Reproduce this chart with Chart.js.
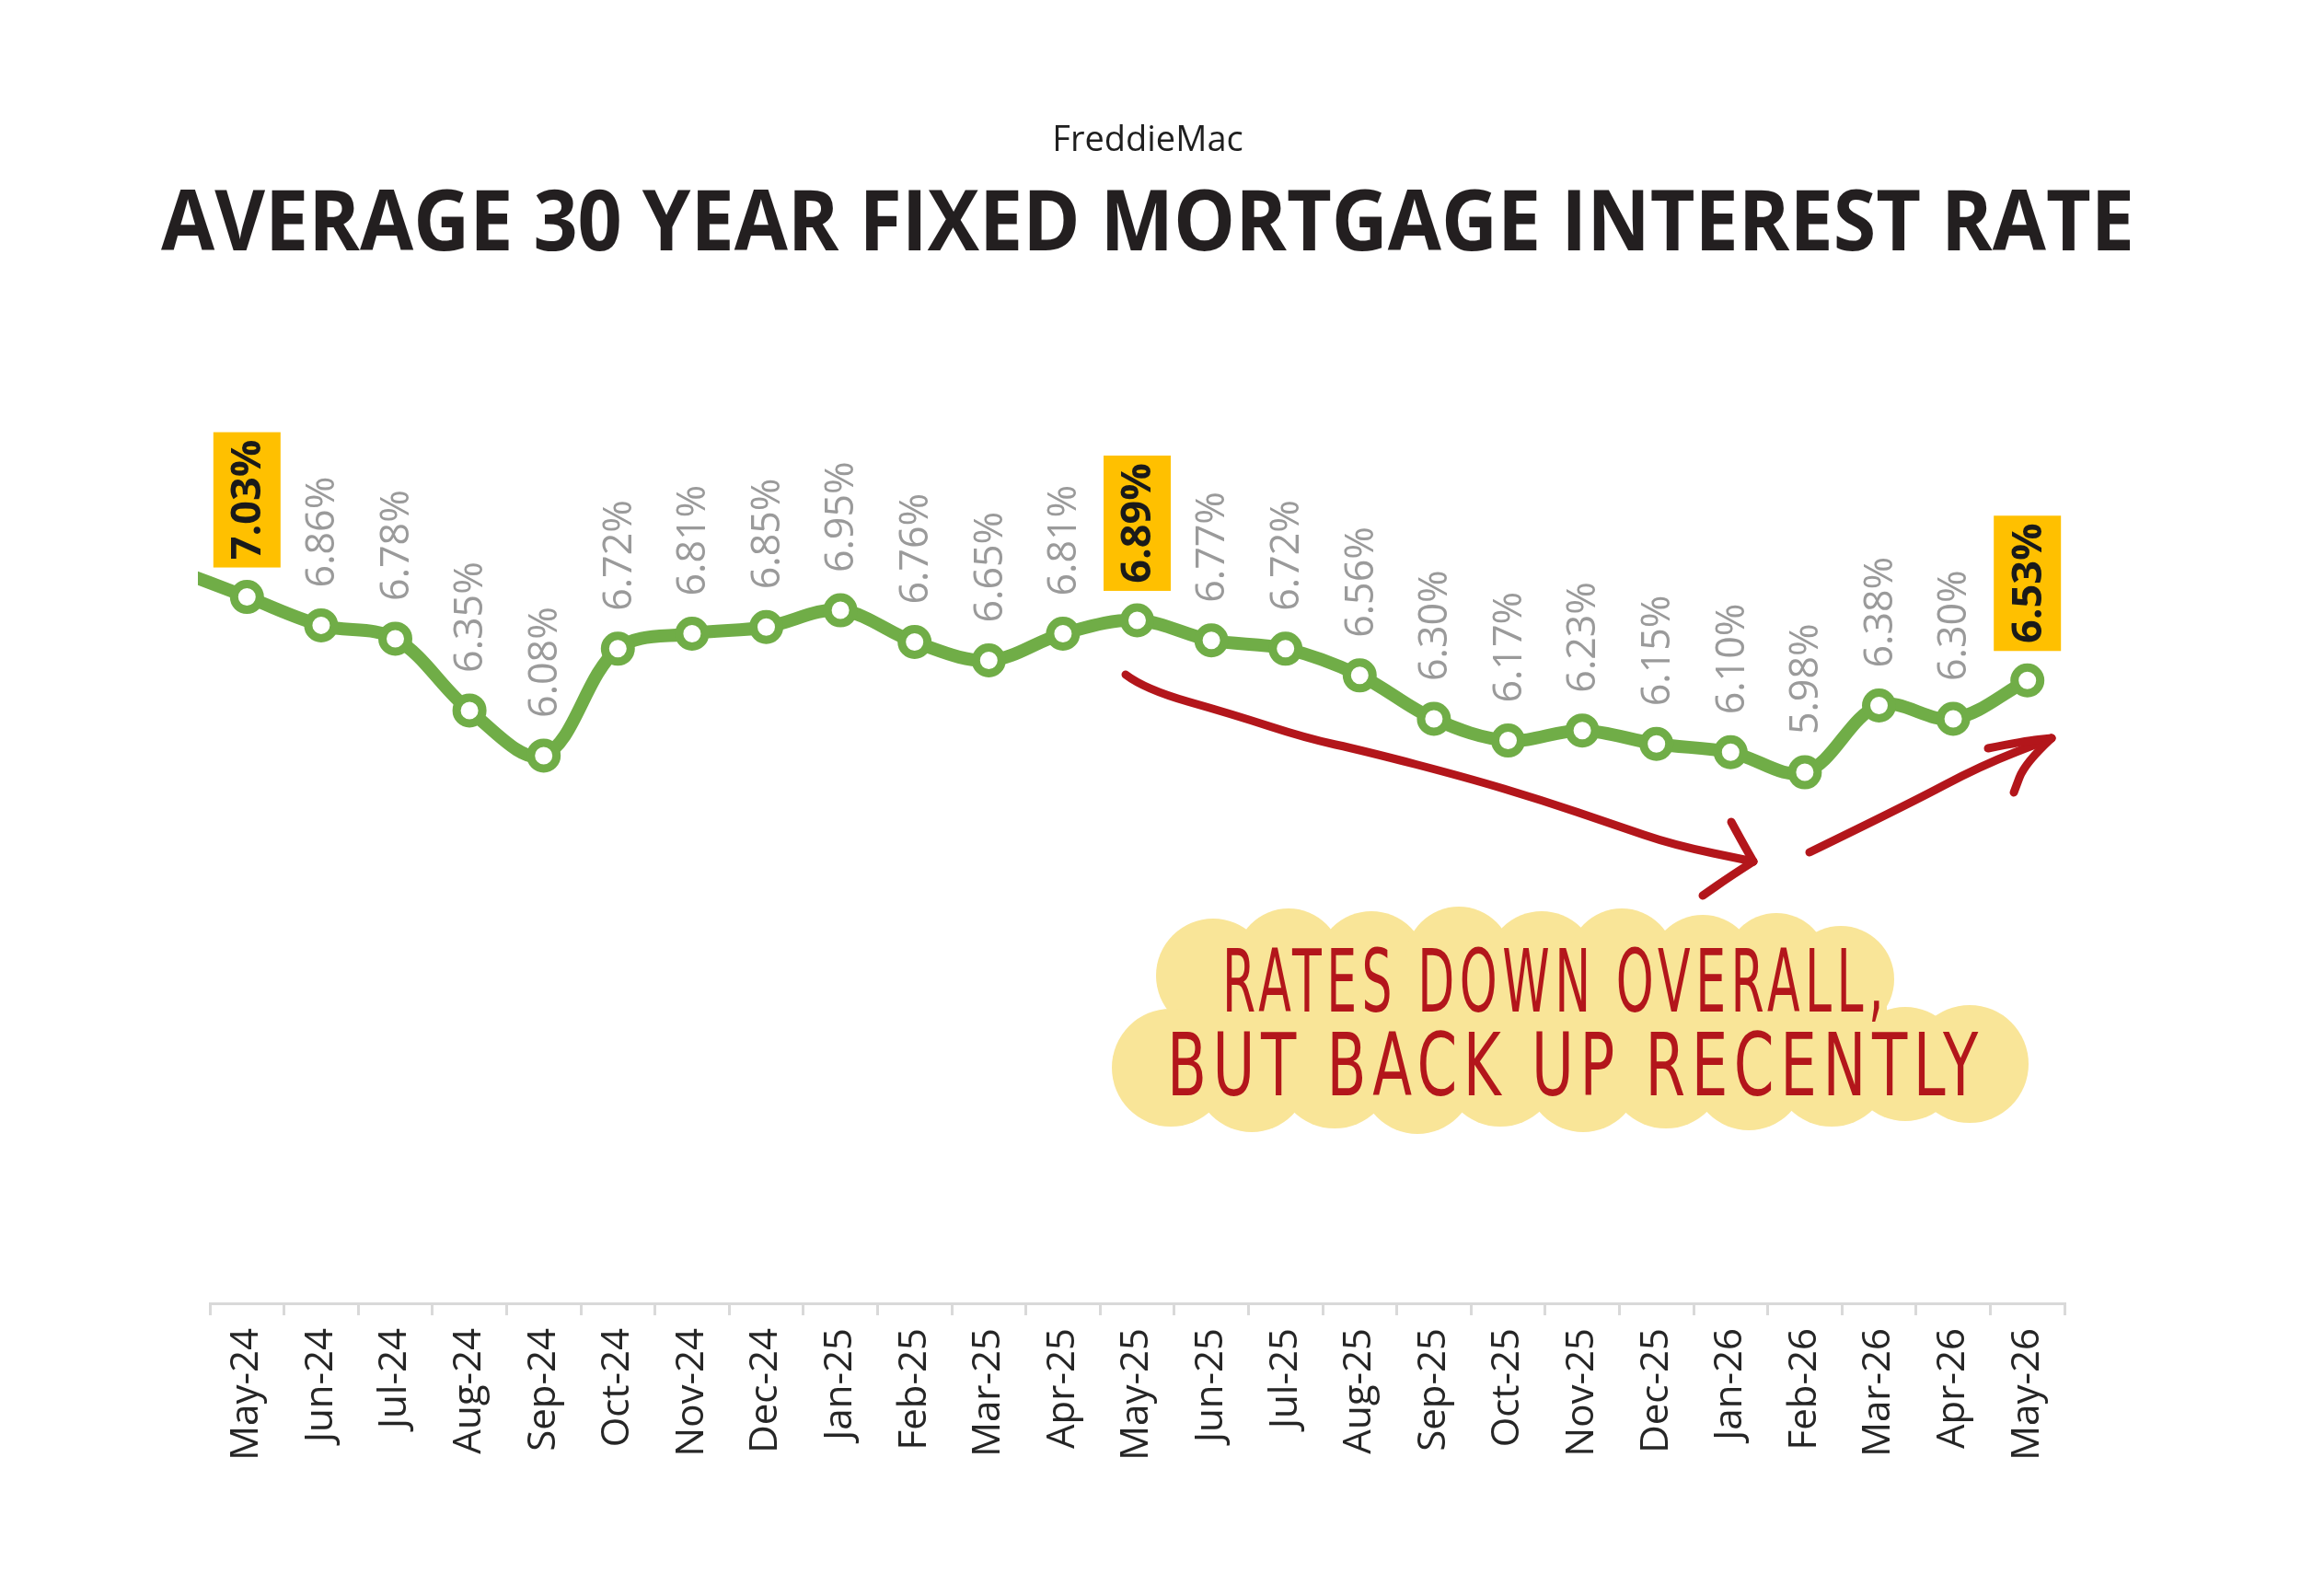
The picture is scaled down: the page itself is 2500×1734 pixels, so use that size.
<!DOCTYPE html>
<html>
<head>
<meta charset="utf-8">
<script src="https://cdn.jsdelivr.net/npm/chart.js@4.4.1/dist/chart.umd.min.js"></script>
<style>
  html, body { margin: 0; padding: 0; background: #fff; }
</style>
</head>
<body>
<canvas id="rateChart" width="2500" height="1734"></canvas>
<script>
// Apr-24 is only there so the line runs off the left edge like the original
const months = ['Apr-24', 'May-24', 'Jun-24', 'Jul-24', 'Aug-24', 'Sep-24', 'Oct-24', 'Nov-24', 'Dec-24',
  'Jan-25', 'Feb-25', 'Mar-25', 'Apr-25', 'May-25', 'Jun-25', 'Jul-25', 'Aug-25', 'Sep-25', 'Oct-25',
  'Nov-25', 'Dec-25', 'Jan-26', 'Feb-26', 'Mar-26', 'Apr-26', 'May-26'];
const rates = [7.20, 7.03, 6.86, 6.78, 6.35, 6.08, 6.72, 6.81, 6.85, 6.95, 6.76, 6.65, 6.81,
  6.89, 6.77, 6.72, 6.56, 6.30, 6.17, 6.23, 6.15, 6.10, 5.98, 6.38, 6.30, 6.53];
const highlighted = ['May-24', 'May-25', 'May-26'];
const firstShown = 'May-24';

const titleText = 'AVERAGE 30 YEAR FIXED MORTGAGE INTEREST RATE';
const subtitleText = 'FreddieMac';
const noteLines = ['RATES DOWN OVERALL,', 'BUT BACK UP RECENTLY'];

const GREEN = '#70ad47';
const RED = '#b3161b';
const GOLD = '#ffc000';

// draw text centred at x, squeezed or stretched to a given width
function fitText(ctx, text, x, y, font, width, spacing) {
  ctx.font = font;
  ctx.letterSpacing = spacing || '0px';
  const w = ctx.measureText(text).width;
  ctx.save();
  ctx.translate(x, y);
  ctx.scale(width / w, 1);
  ctx.textAlign = 'center';
  ctx.textBaseline = 'alphabetic';
  ctx.fillText(text, 0, 0);
  ctx.restore();
  ctx.letterSpacing = '0px';
}

function smoothPath(ctx, pts) {
  ctx.beginPath();
  ctx.moveTo(pts[0][0], pts[0][1]);
  for (let i = 1; i < pts.length - 1; i++) {
    const mx = (pts[i][0] + pts[i + 1][0]) / 2;
    const my = (pts[i][1] + pts[i + 1][1]) / 2;
    ctx.quadraticCurveTo(pts[i][0], pts[i][1], mx, my);
  }
  const last = pts[pts.length - 1];
  ctx.lineTo(last[0], last[1]);
  ctx.stroke();
}

const headings = {
  id: 'headings',
  afterDraw(chart) {
    const ctx = chart.ctx;
    ctx.save();
    ctx.fillStyle = '#1f1f1f';
    ctx.font = '38px "Open Sans"';
    ctx.textAlign = 'center';
    ctx.fillText(subtitleText, 1247, 164);
    ctx.fillStyle = '#231f20';
    fitText(ctx, titleText, 1247, 272, 'bold 92px "Open Sans"', 2144);
    ctx.restore();
  }
};

const pointLabels = {
  id: 'pointLabels',
  afterDatasetsDraw(chart) {
    const ctx = chart.ctx;
    const meta = chart.getDatasetMeta(0);
    const start = months.indexOf(firstShown);
    for (let i = start; i < rates.length; i++) {
      const pt = meta.data[i];
      const txt = rates[i].toFixed(2) + '%';
      ctx.save();
      ctx.translate(pt.x, pt.y);
      ctx.rotate(-Math.PI / 2);
      if (highlighted.includes(months[i])) {
        ctx.fillStyle = GOLD;
        ctx.fillRect(32, -36.5, 147, 73);
        ctx.fillStyle = '#1a1a1a';
        ctx.font = 'bold 45px "Open Sans"';
        ctx.textAlign = 'center';
        ctx.textBaseline = 'middle';
        ctx.fillText(txt, 32 + 73.5, 2);
      } else {
        ctx.fillStyle = '#9a9a9a';
        ctx.font = '43px "Open Sans"';
        ctx.textAlign = 'left';
        ctx.textBaseline = 'middle';
        ctx.fillText(txt, 41, 2);
      }
      ctx.restore();
    }
  }
};

// hand drawn note: yellow cloud, red text, two arrows
const note = {
  id: 'note',
  afterDraw(chart) {
    const ctx = chart.ctx;
    ctx.save();
    ctx.fillStyle = '#f9e598';
    const blobs = [
      [1318, 1060, 62], [1400, 1045, 58], [1490, 1050, 60], [1585, 1043, 58], [1675, 1050, 60],
      [1762, 1045, 58], [1850, 1052, 58], [1930, 1048, 56], [2000, 1064, 58],
      [1272, 1160, 64], [1360, 1168, 62], [1450, 1162, 64], [1540, 1170, 62], [1630, 1160, 64],
      [1720, 1168, 62], [1810, 1162, 64], [1900, 1166, 62], [1990, 1160, 64], [2070, 1156, 62], [2140, 1156, 64]
    ];
    blobs.forEach(([x, y, r]) => { ctx.beginPath(); ctx.arc(x, y, r, 0, Math.PI * 2); ctx.fill(); });
    ctx.fillRect(1290, 1040, 760, 130);
    ctx.fillRect(1240, 1110, 940, 80);

    ctx.fillStyle = RED;
    const hand = '94px "Liberation Sans Narrow", "DejaVu Sans Condensed", sans-serif';
    fitText(ctx, noteLines[0], 1690, 1099, hand, 724, '9px');
    fitText(ctx, noteLines[1], 1712, 1190, hand, 888, '9px');

    ctx.strokeStyle = RED;
    ctx.lineWidth = 9;
    ctx.lineCap = 'round';
    ctx.lineJoin = 'round';
    smoothPath(ctx, [[1223, 733], [1244, 749], [1339, 776], [1419, 802], [1483, 816], [1594, 845],
      [1674, 869], [1754, 896], [1818, 918], [1905, 936]]);
    smoothPath(ctx, [[1881, 893], [1893, 915], [1905, 936]]);
    smoothPath(ctx, [[1905, 936], [1880, 952], [1850, 973]]);
    smoothPath(ctx, [[1966, 926], [2073, 874], [2152, 832], [2229, 802]]);
    smoothPath(ctx, [[2160, 813], [2200, 805], [2229, 802]]);
    smoothPath(ctx, [[2229, 802], [2200, 829], [2188, 861]]);
    ctx.restore();
  }
};

const ctx = document.getElementById('rateChart').getContext('2d');
new Chart(ctx, {
  type: 'line',
  data: {
    labels: months,
    datasets: [{
      data: rates,
      borderColor: GREEN,
      borderWidth: 14,
      tension: 0.35,
      clip: { left: 13, top: false, right: false, bottom: false },
      pointRadius: c => c.dataIndex < months.indexOf(firstShown) ? 0 : 14,
      pointBorderWidth: 9,
      pointBorderColor: GREEN,
      pointBackgroundColor: '#fff'
    }]
  },
  options: {
    responsive: false,
    animation: false,
    devicePixelRatio: 1,
    layout: { padding: { top: 400, left: 228, right: 257, bottom: 0 } },
    plugins: {
      legend: { display: false },
      tooltip: { enabled: false }
    },
    scales: {
      x: {
        type: 'category',
        min: firstShown,
        offset: true,
        grid: { offset: true, drawOnChartArea: false, drawTicks: true, tickLength: 13, color: '#d9d9d9', lineWidth: 3 },
        border: { display: true, color: '#d9d9d9', width: 3 },
        ticks: {
          minRotation: 90, maxRotation: 90, autoSkip: false, padding: 14,
          color: '#262626', font: { family: 'Open Sans', size: 42 }
        },
        afterFit: s => { s.height = 318; }
      },
      y: { display: false, min: 2.8, max: 8.4 }
    }
  },
  plugins: [headings, pointLabels, note]
});
</script>
</body>
</html>
